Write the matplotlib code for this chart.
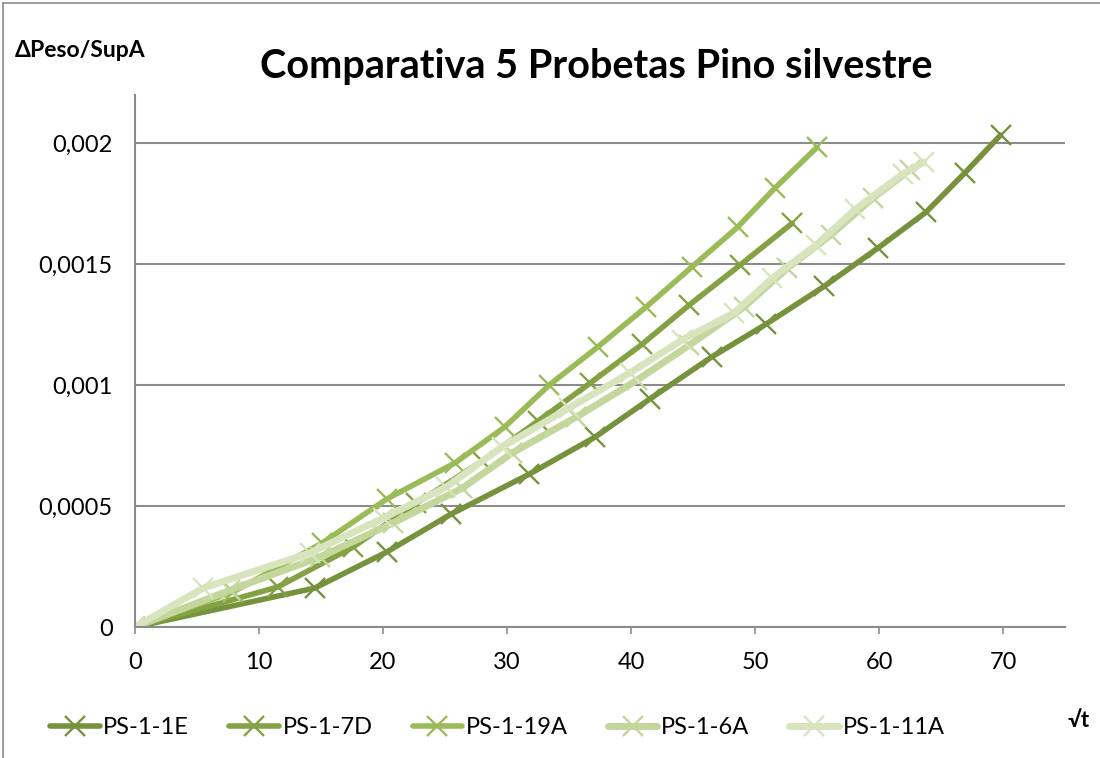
import matplotlib.pyplot as plt
from matplotlib.lines import Line2D
from matplotlib.ticker import FuncFormatter

plt.rcParams['font.family'] = ['Lato', 'DejaVu Sans']

# datos (raiz de t, incremento de peso / superficie)
x_1e = [0, 14.5, 20.3, 25.5, 31.8, 37.1, 41.5, 46.5, 50.9, 55.6, 59.9, 63.8, 66.9, 69.8]
y_1e = [0, 0.000161, 0.00031, 0.000467, 0.000632, 0.000785, 0.000942, 0.001116,
        0.001252, 0.001409, 0.001566, 0.001715, 0.001876, 0.002033]

x_7d = [0, 11.5, 17.6, 22.7, 28.0, 32.5, 36.7, 40.9, 44.7, 48.8, 53.0]
y_7d = [0, 0.000165, 0.000331, 0.000512, 0.000686, 0.000851, 0.001008, 0.001169,
        0.001331, 0.001496, 0.001669]

x_19a = [0, 7.9, 15.1, 20.3, 25.8, 29.8, 33.4, 37.3, 41.2, 44.9, 48.6, 51.6, 55.0]
y_19a = [0, 0.000145, 0.000347, 0.000529, 0.000678, 0.000826, 0.001, 0.001157,
         0.001322, 0.001488, 0.001653, 0.001814, 0.001983]

x_6a = [0, 7.7, 14.9, 20.8, 26.4, 30.4, 35.6, 40.5, 44.7, 49.1, 52.6, 56.1, 59.5, 62.5]
y_6a = [0, 0.000153, 0.000289, 0.00043, 0.000574, 0.000719, 0.000868, 0.001021,
        0.001165, 0.001322, 0.001483, 0.00162, 0.001773, 0.00189]

x_11a = [0, 5.5, 14.1, 20.0, 25.1, 29.6, 35.0, 39.9, 44.1, 48.3, 51.4, 54.9, 58.1, 61.9, 63.6]
y_11a = [0, 0.000161, 0.000306, 0.00045, 0.000579, 0.000744, 0.000905, 0.00105,
         0.001186, 0.001298, 0.001442, 0.001578, 0.001727, 0.001872, 0.001921]

series = [
    ("PS-1-1E", x_1e, y_1e, "#76923C", 4.0),
    ("PS-1-7D", x_7d, y_7d, "#84A244", 4.0),
    ("PS-1-19A", x_19a, y_19a, "#9BBB59", 4.0),
    ("PS-1-6A", x_6a, y_6a, "#C3D69B", 5.0),
    ("PS-1-11A", x_11a, y_11a, "#D7E4BD", 5.0),
]

fig = plt.figure(figsize=(11, 7.58), dpi=100)
ax = fig.add_axes([0.1227, 0.1728, 0.8455, 0.7022])

for nombre, xs, ys, color, lw in series:
    ax.plot(xs, ys, color=color, linewidth=lw, marker='x', markersize=14,
            markeredgewidth=1.7, label=nombre, solid_capstyle='round')

ax.set_xlim(0, 75)
ax.set_ylim(0, 0.0022)
ax.set_xticks(range(0, 71, 10))
ax.set_yticks([0, 0.0005, 0.001, 0.0015, 0.002])
ax.yaxis.set_major_formatter(FuncFormatter(
    lambda v, p: "0" if v == 0 else f"{v:g}".replace(".", ",")))
ax.grid(axis='y', color='#8C8C8C', linewidth=1.5)
ax.set_axisbelow(True)
for lado in ['top', 'right']:
    ax.spines[lado].set_visible(False)
ax.spines['left'].set_color('#8C8C8C')
ax.spines['bottom'].set_color('#8C8C8C')
ax.spines['left'].set_linewidth(1.5)
ax.spines['bottom'].set_linewidth(1.5)
ax.tick_params(axis='both', labelsize=17, color='#8C8C8C', length=5, width=1.2)
ax.tick_params(axis='y', length=0, pad=16)
ax.tick_params(axis='x', pad=13)

fig.text(0.542, 0.912, "Comparativa 5 Probetas Pino silvestre", ha='center', va='center',
         fontsize=28.5, fontweight='bold')
fig.text(0.013, 0.934, "ΔPeso/SupA", ha='left', va='center', fontsize=16.5, fontweight='bold')
fig.text(0.981, 0.049, "√t", ha='center', va='center', fontsize=16, fontweight='bold')

ax.legend(loc='center left', bbox_to_anchor=(0.037, 0.04), bbox_transform=fig.transFigure,
          ncol=5, frameon=False, fontsize=17, handlelength=2.1, columnspacing=1.7,
          handletextpad=0.15, borderaxespad=0)

# marco del grafico (solo arriba e izquierda visibles)
fig.add_artist(Line2D([0.003, 1.0], [0.996, 0.996], transform=fig.transFigure,
                      color='#8C8C8C', linewidth=1.2))
fig.add_artist(Line2D([0.003, 0.003], [0.0, 0.996], transform=fig.transFigure,
                      color='#8C8C8C', linewidth=1.2))

fig.savefig("out.png", dpi=100)
